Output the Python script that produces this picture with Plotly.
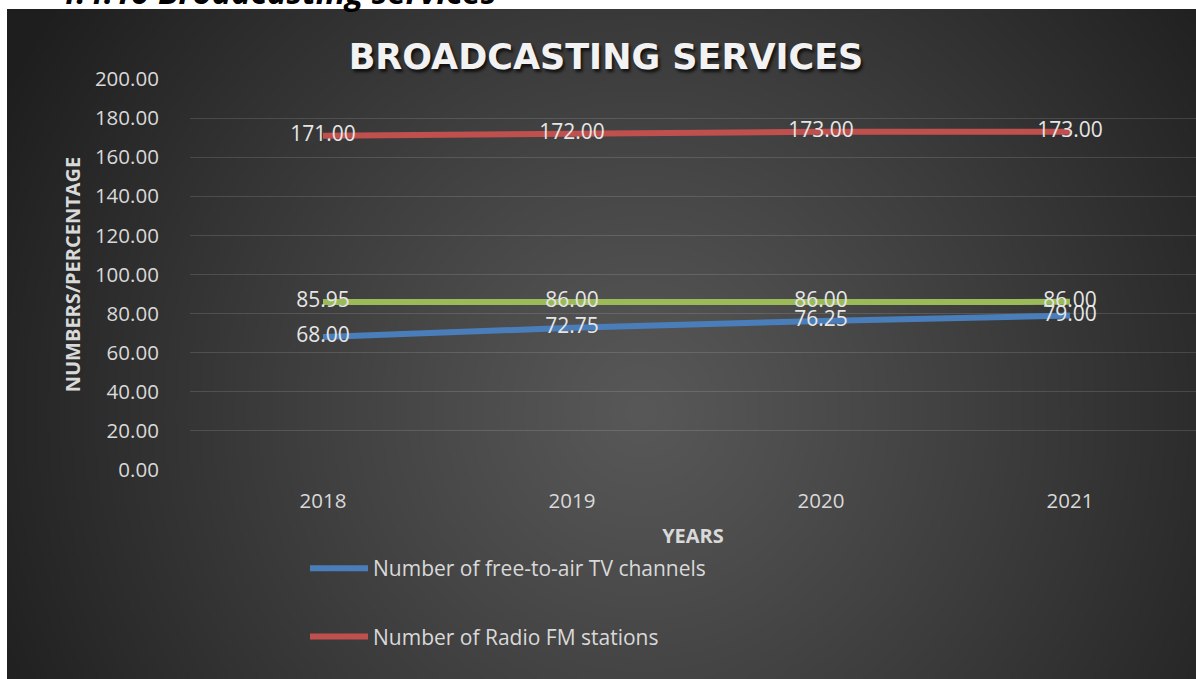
import base64, struct, zlib
import numpy as np
import plotly.graph_objects as go

years = ["2018", "2019", "2020", "2021"]
tv_channels = [68.00, 72.75, 76.25, 79.00]
radio_fm = [171.00, 172.00, 173.00, 173.00]
third_series = [85.95, 86.00, 86.00, 86.00]
y_ticks = [0, 20, 40, 60, 80, 100, 120, 140, 160, 180, 200]

W, H = 1196, 679
L, R, T, B = 190, 0, 79, 209
PW, PH = W - L - R, H - T - B


def px_x(p):
    return (p - L) / PW


def px_y(p):
    return (H - B - p) / PH


def make_gradient_png(w, h):
    yy, xx = np.mgrid[0:h, 0:w]
    sx = 1189 / w
    sy = 670 / h
    cx, cy = 640, 410
    d = np.sqrt(((xx * sx + 7) - cx) ** 2 + ((yy * sy + 9) - cy) ** 2)
    t = np.clip(d / 720.0, 0, 1) ** 1.1
    c_in, c_out = 88, 30
    v = (c_in + (c_out - c_in) * t).astype(np.uint8)
    rgb = np.stack([v, v, v], axis=-1)
    raw = b"".join(b"\x00" + rgb[r].tobytes() for r in range(h))

    def chunk(tag, data):
        c = tag + data
        return struct.pack(">I", len(data)) + c + struct.pack(">I", zlib.crc32(c) & 0xFFFFFFFF)

    png = b"\x89PNG\r\n\x1a\n"
    png += chunk(b"IHDR", struct.pack(">IIBBBBB", w, h, 8, 2, 0, 0, 0))
    png += chunk(b"IDAT", zlib.compress(raw, 9))
    png += chunk(b"IEND", b"")
    return "data:image/png;base64," + base64.b64encode(png).decode()


bg = make_gradient_png(400, 226)

label_font = dict(family="Open Sans", size=21, color="#e6e6e6")

fig = go.Figure()
fig.add_trace(go.Scatter(
    x=years, y=tv_channels, mode="lines+text", name="Number of free-to-air TV channels",
    line=dict(color="#4a7ebb", width=6), text=[f"{v:.2f}" for v in tv_channels],
    textposition="middle center", textfont=label_font, legendgroup="a",
))
fig.add_trace(go.Scatter(
    x=years, y=radio_fm, mode="lines+text", name="Number of Radio FM stations",
    line=dict(color="#c0504d", width=6), text=[f"{v:.2f}" for v in radio_fm],
    textposition="middle center", textfont=label_font, legendgroup="b",
))
fig.add_trace(go.Scatter(
    x=years, y=third_series, mode="lines+text", name="Series 3",
    line=dict(color="#9bbb59", width=6), text=[f"{v:.2f}" for v in third_series],
    textposition="middle center", textfont=label_font, showlegend=False, legendgroup="c",
))

fig.update_layout(
    width=W, height=H,
    margin=dict(l=L, r=R, t=T, b=B),
    paper_bgcolor="white",
    plot_bgcolor="rgba(0,0,0,0)",
    images=[dict(source=bg, xref="paper", yref="paper", x=px_x(7), y=px_y(9),
                 sizex=px_x(W) - px_x(7), sizey=px_y(9) - px_y(H),
                 xanchor="left", yanchor="top", sizing="stretch", layer="below")],
    title=dict(text="<b>BROADCASTING SERVICES</b>", x=606 / W, xanchor="center",
               y=1 - 57 / H, yanchor="middle", yref="container",
               font=dict(family="DejaVu Sans", size=35, color="#f2f2f2",
                         shadow="2px 3px 3px rgba(0,0,0,0.7)")),
    xaxis=dict(
        type="category", range=[-(323 - L) / 249, -(323 - L) / 249 + PW / 249],
        showgrid=False, zeroline=False, showline=False,
        ticks="outside", ticklen=12, tickcolor="rgba(0,0,0,0)",
        tickfont=dict(family="Open Sans", size=20.5, color="#d9d9d9"),
        title=dict(text="<b>YEARS</b>", standoff=16,
                   font=dict(family="Open Sans", size=20, color="#d9d9d9")),
        fixedrange=True,
    ),
    yaxis=dict(
        range=[0, 200], tickvals=y_ticks, ticktext=[f"{v:.2f}" for v in y_ticks],
        showgrid=True, gridcolor="rgba(255,255,255,0.13)", gridwidth=1,
        zeroline=False, showline=False,
        ticks="outside", ticklen=26, tickcolor="rgba(0,0,0,0)",
        tickfont=dict(family="Open Sans", size=20.5, color="#d9d9d9"),
        title=dict(text="<b>NUMBERS/PERCENTAGE</b>", standoff=8,
                   font=dict(family="Open Sans", size=20, color="#d9d9d9")),
        fixedrange=True,
    ),
    legend=dict(
        x=px_x(305), y=px_y(548), xanchor="left", yanchor="top",
        orientation="v", traceorder="grouped", tracegroupgap=38,
        itemwidth=58, bgcolor="rgba(0,0,0,0)",
        font=dict(family="Open Sans", size=21, color="#d9d9d9"),
    ),
    annotations=[dict(
        text="<b><i>4.4.10 Broadcasting services</i></b>", xref="paper", yref="paper",
        x=px_x(55), y=px_y(16), xanchor="left", yanchor="bottom", showarrow=False,
        font=dict(family="Open Sans", size=33, color="black"),
    )],
    showlegend=True,
)

fig.write_html("out.html")
